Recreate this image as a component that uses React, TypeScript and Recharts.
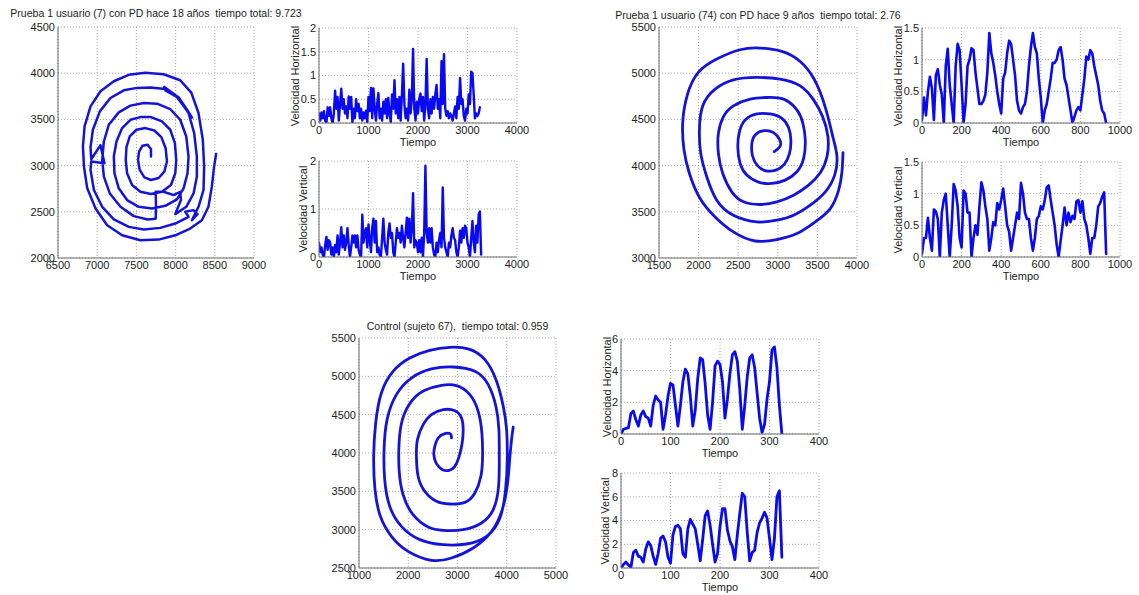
import React from 'react';
import { LineChart, Line, XAxis, YAxis, CartesianGrid } from 'recharts';

const FONT = '"Liberation Sans", Arial, Helvetica, sans-serif';
const SPIRAL_COLOR = '#1414d8';
const SPEED_COLOR = '#0a0af2';
const AXIS_COLOR = '#6e6e6e';
const GRID_COLOR = '#a4a4a4';
const TEXT_COLOR = '#1c1c1c';

// ---- titles ----
const titleUser7 = 'Prueba 1 usuario (7) con PD hace 18 años  tiempo total: 9.723';
const titleUser74 = 'Prueba 1 usuario (74) con PD hace 9 años  tiempo total: 2.76';
const titleControl = 'Control (sujeto 67),  tiempo total: 0.959';

const labelTime = 'Tiempo';
const labelHoriz = 'Velocidad Horizontal';
const labelVert = 'Velocidad Vertical';

// ---- tick values ----
const ticksX7 = [6500, 7000, 7500, 8000, 8500, 9000];
const ticksY7 = [2000, 2500, 3000, 3500, 4000, 4500];
const ticksX74 = [1500, 2000, 2500, 3000, 3500, 4000];
const ticksY74 = [3000, 3500, 4000, 4500, 5000, 5500];
const ticksX67 = [1000, 2000, 3000, 4000, 5000];
const ticksY67 = [2500, 3000, 3500, 4000, 4500, 5000, 5500];
const ticksT7 = [0, 1000, 2000, 3000, 4000];
const ticksT74 = [0, 200, 400, 600, 800, 1000];
const ticksT67 = [0, 100, 200, 300, 400];
const ticksH7 = [0, 0.5, 1, 1.5, 2];
const ticksV7 = [0, 1, 2];
const ticksHV74 = [0, 0.5, 1, 1.5];
const ticksH67 = [0, 2, 4, 6];
const ticksV67 = [0, 2, 4, 6, 8];

// ---- pen trace, user 7 (x, y) ----
const spiral7: [number, number][] = [
  [7686, 3098], [7686, 3178], [7644, 3225], [7576, 3214], [7534, 3152], [7521, 3062], [7542, 2953], [7602, 2873],
  [7686, 2844], [7784, 2866], [7856, 2935], [7890, 3044], [7873, 3188], [7818, 3308], [7729, 3380], [7614, 3406],
  [7500, 3388], [7415, 3315], [7373, 3199], [7364, 3062], [7381, 2917], [7445, 2790], [7551, 2717], [7686, 2692],
  [7826, 2717], [7941, 2790], [7996, 2917], [8008, 3062], [7991, 3243], [7932, 3388], [7826, 3478], [7686, 3525],
  [7551, 3525], [7424, 3496], [7318, 3406], [7246, 3261], [7212, 3098], [7220, 2917], [7275, 2754], [7381, 2627],
  [7530, 2554], [7699, 2536], [7869, 2565], [8017, 2634], [8102, 2754], [8152, 2917], [8165, 3098], [8136, 3315],
  [8059, 3496], [7932, 3612], [7763, 3670], [7593, 3678], [7424, 3649], [7275, 3576], [7148, 3442], [7085, 3261],
  [7064, 3062], [7085, 2880], [7161, 2699], [7297, 2554], [7466, 2453], [7644, 2417], [7746, 2424], [7750, 2554],
  [7746, 2717], [7847, 2717], [7975, 2681], [8059, 2717], [8068, 2627], [7996, 2475], [8136, 2554], [8229, 2699],
  [8271, 2880], [8271, 3098], [8237, 3351], [8165, 3569], [8038, 3732], [7869, 3815], [7856, 3851], [8000, 3760],
  [8210, 3520], [8150, 3600], [8038, 3740], [7870, 3830], [7678, 3844], [7508, 3841],
  [7339, 3815], [7169, 3732], [7034, 3587], [6945, 3388], [6915, 3199], [6924, 3069], [7042, 3221], [7093, 3025],
  [6924, 3044], [6915, 2953], [6958, 2736], [7064, 2554], [7212, 2417], [7403, 2337], [7593, 2308], [7805, 2326],
  [7996, 2373], [8165, 2446], [8123, 2500], [8229, 2518], [8280, 2475], [8208, 2409], [8292, 2554], [8356, 2736],
  [8364, 2989], [8347, 3279], [8292, 3569], [8200, 3790], [8059, 3924], [7847, 3989], [7614, 4004], [7403, 3982],
  [7212, 3913], [7042, 3804], [6915, 3641], [6839, 3424],
  [6818, 3207], [6831, 2989], [6873, 2754], [6979, 2536], [7127, 2355], [7318, 2246], [7551, 2192], [7784, 2199],
  [7996, 2246], [8186, 2319], [8335, 2409], [8419, 2554], [8462, 2772], [8491, 2989], [8517, 3127],
];

// ---- pen trace, user 74 (x, y) ----
const spiral74: [number, number][] = [
  [2955, 4150], [3030, 4212], [3022, 4284], [2946, 4357], [2828, 4378], [2714, 4331], [2672, 4234], [2680, 4107],
  [2744, 3999], [2849, 3944], [2976, 3951], [3081, 4013], [3148, 4132], [3165, 4277], [3136, 4411], [3051, 4512],
  [2904, 4559], [2735, 4559], [2588, 4494], [2516, 4368], [2495, 4205], [2524, 4024], [2609, 3897], [2756, 3821],
  [2925, 3807], [3094, 3843], [3241, 3933], [3326, 4078], [3347, 4277], [3317, 4458], [3241, 4603], [3073, 4719],
  [2862, 4737], [2651, 4719], [2440, 4646], [2314, 4530], [2250, 4349], [2250, 4132], [2305, 3915], [2419, 3716],
  [2567, 3608], [2777, 3579], [2988, 3608], [3199, 3680], [3389, 3789], [3536, 3923], [3621, 4096], [3633, 4313],
  [3566, 4530], [3452, 4711], [3283, 4863], [3030, 4936], [2735, 4954], [2440, 4928], [2208, 4827], [2052, 4646],
  [2010, 4386], [2027, 4132], [2103, 3879], [2229, 3626], [2440, 3463], [2735, 3391], [2988, 3409], [3199, 3463],
  [3410, 3572], [3600, 3716], [3718, 3897], [3747, 4096], [3705, 4277], [3654, 4458], [3570, 4711], [3452, 4946],
  [3283, 5127], [3051, 5236], [2777, 5272], [2524, 5254], [2229, 5153], [1997, 5008], [1858, 4766], [1799, 4458],
  [1816, 4169], [1884, 3915], [2019, 3644], [2208, 3445], [2440, 3282], [2714, 3184], [2988, 3199], [3241, 3264],
  [3473, 3391], [3663, 3535], [3768, 3734], [3810, 3933], [3823, 4140],
];

// ---- pen trace, control subject 67 (x, y) ----
const spiral67: [number, number][] = [
  [2878, 4196], [2858, 4248], [2742, 4252], [2607, 4196], [2539, 4087], [2519, 3978], [2573, 3861], [2695, 3783],
  [2831, 3774], [2946, 3826], [3034, 3956], [3095, 4130], [3115, 4304], [3081, 4457], [2946, 4552], [2709, 4565],
  [2471, 4500], [2302, 4370], [2187, 4174], [2166, 3956], [2200, 3696], [2336, 3500], [2573, 3370], [2844, 3335],
  [3149, 3356], [3353, 3478], [3475, 3696], [3509, 3956], [3495, 4261], [3420, 4543], [3251, 4761], [2980, 4878],
  [2675, 4883], [2336, 4817], [2064, 4674], [1881, 4435], [1814, 4130], [1814, 3783], [1895, 3456], [2098, 3196],
  [2403, 3035], [2709, 2991], [3115, 3000], [3488, 3087], [3726, 3261], [3834, 3565], [3848, 3956], [3841, 4304],
  [3780, 4609], [3624, 4891], [3353, 5065], [2912, 5122], [2471, 5096], [2064, 4978], [1759, 4761], [1570, 4435],
  [1509, 4043], [1522, 3652], [1624, 3304], [1861, 3043], [2234, 2870], [2709, 2804], [3183, 2813], [3590, 2913],
  [3861, 3152], [3976, 3522], [4010, 3913], [3997, 4304], [3929, 4609], [3793, 4935], [3556, 5217], [3217, 5357],
  [2844, 5378], [2437, 5339], [2031, 5239], [1692, 5065], [1454, 4783], [1339, 4391], [1298, 3956], [1325, 3522],
  [1434, 3174], [1658, 2913], [1997, 2717], [2471, 2600], [2878, 2630], [3319, 2761], [3692, 2978], [3909, 3261],
  [4017, 3609], [4065, 3956], [4105, 4217], [4132, 4339],
];

// ---- speed samples, user 7 (one value every 25 time units) ----
const step7 = 25;
const horiz7 = [
  0.2, 0.05, 0.22, 0.1, 0.25, 0.05, 0.0, 0.33, 0.15, 0.33, 0.1, 0.0, 0.2, 0.68, 0.3, 0.55,
  0.05, 0.4, 0.72, 0.3, 0.5, 0.2, 0.35, 0.1, 0.56, 0.3, 0.55, 0.0, 0.3, 0.1, 0.5, 0.25,
  0.4, 0.1, 0.3, 0.05, 0.22, 0.1, 0.26, 0.02, 0.55, 0.25, 0.74, 0.1, 0.73, 0.3, 0.05, 0.4,
  0.63, 0.1, 0.3, 0.05, 0.45, 0.2, 0.5, 0.1, 0.53, 0.2, 0.02, 0.6, 0.3, 0.9, 0.2, 0.5,
  0.1, 0.55, 0.05, 0.6, 1.25, 0.4, 0.1, 0.3, 0.05, 0.7, 0.2, 0.5, 1.56, 0.3, 0.05, 0.45,
  0.2, 0.5, 0.62, 0.25, 0.55, 0.05, 0.4, 1.35, 0.3, 0.1, 0.5, 0.2, 0.55, 0.3, 0.6, 0.8,
  0.3, 0.5, 0.1, 1.3, 0.4, 1.45, 0.3, 0.15, 0.25, 0.1, 0.2, 0.15, 0.05, 0.2, 0.35, 0.1,
  0.55, 0.3, 0.95, 0.4, 0.5, 0.15, 0.05, 0.3, 0.2, 0.6, 0.4, 1.08, 1.05, 0.6, 0.1, 0.2,
  0.15, 0.2, 0.33,
];
const vert7 = [
  0.3, 0.1, 0.2, 0.05, 0.0, 0.25, 0.42, 0.15, 0.35, 0.3, 0.05, 0.2, 0.0, 0.25, 0.1, 0.45,
  0.05, 0.3, 0.62, 0.2, 0.45, 0.15, 0.3, 0.6, 0.25, 0.0, 0.2, 0.45, 0.3, 0.45, 0.2, 0.45,
  0.15, 0.05, 0.0, 0.88, 0.3, 0.5, 0.6, 0.2, 0.68, 0.35, 0.1, 0.6, 0.8, 0.3, 0.75, 0.1,
  0.2, 0.05, 0.0, 0.4, 0.8, 0.3, 0.15, 0.05, 0.5, 0.7, 0.4, 0.5, 0.1, 0.0, 0.3, 0.6,
  0.4, 0.5, 0.3, 0.65, 0.4, 0.2, 0.5, 0.82, 0.4, 0.8, 0.3, 0.6, 1.33, 0.2, 0.35, 0.3,
  0.1, 0.35, 0.1, 0.4, 0.0, 0.5, 1.9, 0.5, 0.3, 0.6, 0.3, 0.6, 0.2, 0.05, 0.0, 0.3,
  0.1, 0.35, 0.5, 0.2, 1.45, 0.4, 0.2, 0.1, 0.0, 0.3, 0.2, 0.45, 0.6, 0.4, 0.35, 0.1,
  0.0, 0.2, 0.55, 0.3, 0.6, 0.4, 0.65, 0.6, 0.3, 0.2, 0.0, 0.4, 0.75, 0.3, 0.1, 0.65,
  0.3, 0.88, 0.95, 0.05,
];

// ---- speed samples, user 74 (one value every 10 time units) ----
const step74 = 10;
const horiz74 = [
  0.05, 0.4, 0.12, 0.5, 0.73, 0.55, 0.05, 0.75, 0.85, 0.6, 0.45, 0.0, 0.9, 1.17, 0.6, 0.3,
  0.0, 0.9, 1.25, 1.15, 0.6, 0.0, 0.3, 0.9, 1.0, 1.18, 1.15, 0.8, 0.55, 0.3, 0.3, 0.35,
  0.45, 0.8, 1.42, 1.1, 0.95, 0.75, 0.5, 0.3, 0.15, 0.7, 0.8, 1.1, 1.3, 1.25, 1.0, 0.75,
  0.35, 0.2, 0.15, 0.25, 0.3, 0.5, 0.9, 1.2, 1.42, 1.2, 1.1, 0.7, 0.4, 0.0, 0.2, 0.3,
  0.5, 0.7, 0.95, 0.95, 1.0, 1.15, 1.2, 1.0, 0.7, 0.6, 0.4, 0.2, 0.0, 0.1, 0.2, 0.25,
  0.2, 0.45, 0.7, 1.05, 1.0, 1.15, 1.1, 0.9, 0.75, 0.6, 0.35, 0.2, 0.15, 0.0,
];
const vert74 = [
  0.05, 0.3, 0.3, 0.62, 0.3, 0.1, 0.75, 0.72, 0.6, 0.0, 0.7, 0.9, 1.0, 0.5, 0.0, 0.5,
  1.15, 1.05, 0.8, 0.3, 0.15, 1.05, 1.0, 0.7, 0.7, 0.0, 0.3, 0.5, 0.35, 0.8, 1.18, 1.05,
  0.8, 0.6, 0.1, 0.3, 0.55, 0.5, 0.85, 0.75, 0.9, 1.08, 0.8, 0.5, 0.4, 0.1, 0.3, 0.5,
  0.7, 0.6, 1.17, 1.0, 0.7, 0.6, 0.6, 0.3, 0.1, 0.3, 0.6, 0.65, 0.8, 0.75, 0.9, 1.1,
  1.13, 0.9, 0.7, 0.5, 0.2, 0.0, 0.25, 0.5, 0.78, 0.5, 0.7, 0.55, 0.65, 0.6, 0.88, 0.9,
  0.7, 0.88, 0.6, 0.5, 0.3, 0.05, 0.3, 0.3, 0.5, 0.8, 0.85, 0.95, 1.02, 0.05,
];

// ---- speed samples, control 67 (one value every 5 time units) ----
const step67 = 5;
const horiz67 = [
  0.0, 0.3, 0.35, 0.4, 1.3, 1.45, 0.9, 0.5, 1.2, 1.45, 1.1, 1.0, 0.5, 1.8, 2.4, 2.15,
  2.0, 0.3, 1.2, 2.4, 3.2, 3.1, 1.8, 0.5, 1.8, 3.3, 4.1, 3.8, 2.4, 0.5, 1.5, 3.5,
  4.8, 4.7, 3.2, 1.2, 0.3, 2.0, 4.3, 4.6, 4.4, 3.3, 1.0, 2.2, 3.8, 5.0, 5.2, 4.6,
  2.8, 0.3, 1.8, 3.6, 4.8, 5.0, 4.2, 2.6, 1.0, 0.1, 0.6, 2.2, 3.3, 5.3, 5.5, 4.2,
  1.8, 0.0,
];
const vert67 = [
  0.0, 0.3, 0.5, 0.25, 0.05, 1.3, 1.5, 1.0, 0.9, 0.5, 1.6, 2.2, 1.9, 1.0, 0.3, 1.2,
  2.5, 2.7, 2.2, 0.9, 0.4, 2.8, 3.5, 3.6, 3.3, 1.2, 0.9, 3.3, 4.1, 3.7, 3.3, 2.0,
  0.6, 2.4, 4.4, 4.8, 3.6, 2.0, 0.5, 1.2, 3.5, 5.0, 5.0, 3.2, 2.3, 1.8, 0.7, 2.8,
  4.6, 6.3, 6.0, 3.0, 0.6, 1.3, 1.5, 3.0, 3.8, 4.2, 4.7, 4.2, 2.5, 0.7, 2.5, 6.0,
  6.5, 0.9,
];

type Pt = { x: number; y: number };
const toPath = (pts: [number, number][]): Pt[] => pts.map(([x, y]) => ({ x, y }));
const toSeries = (vals: number[], step: number): Pt[] => vals.map((v, i) => ({ x: i * step, y: v }));

type PanelProps = {
  box: [number, number, number, number]; // left, top, right, bottom of the plot frame
  data: Pt[];
  xDomain: [number, number];
  xTicks: number[];
  yDomain: [number, number];
  yTicks: number[];
  curve: 'linear' | 'natural';
  color: string;
  lineWidth: number;
  title?: string;
  titleGap?: number;
  xLabel?: string;
  yLabel?: string;
  yLabelGap?: number;
};

const YW = 44;
const MT = 6;
const MR = 18;
const XH = 30;
const tickStyle = { fontSize: 11, fill: TEXT_COLOR, fontFamily: FONT };

function Panel(p: PanelProps) {
  const [l, t, r, b] = p.box;
  const w = r - l;
  const h = b - t;
  return (
    <>
      <div style={{ position: 'absolute', left: l - YW, top: t - MT }}>
        <LineChart
          width={YW + w + MR}
          height={MT + h + XH}
          data={p.data}
          margin={{ top: MT, right: MR, left: 0, bottom: 0 }}
        >
          <CartesianGrid stroke={GRID_COLOR} strokeDasharray="1 2" strokeWidth={1} />
          <XAxis
            type="number"
            dataKey="x"
            domain={p.xDomain}
            ticks={p.xTicks}
            interval={0}
            allowDataOverflow
            height={XH}
            tickLine={false}
            tickSize={3}
            tickMargin={0}
            axisLine={{ stroke: AXIS_COLOR }}
            tick={tickStyle}
          />
          <YAxis
            type="number"
            domain={p.yDomain}
            ticks={p.yTicks}
            interval={0}
            allowDataOverflow
            width={YW}
            tickLine={false}
            tickSize={3}
            tickMargin={0}
            axisLine={{ stroke: AXIS_COLOR }}
            tick={tickStyle}
          />
          <XAxis
            xAxisId="frameTop"
            orientation="top"
            type="number"
            domain={p.xDomain}
            allowDataOverflow
            height={0}
            tick={false}
            tickLine={false}
            axisLine={{ stroke: AXIS_COLOR }}
          />
          <YAxis
            yAxisId="frameRight"
            orientation="right"
            type="number"
            domain={p.yDomain}
            allowDataOverflow
            width={0}
            tick={false}
            tickLine={false}
            axisLine={{ stroke: AXIS_COLOR }}
          />
          <Line
            type={p.curve}
            dataKey="y"
            stroke={p.color}
            strokeWidth={p.lineWidth}
            strokeLinejoin="round"
            strokeLinecap="round"
            dot={false}
            activeDot={false}
            isAnimationActive={false}
          />
        </LineChart>
      </div>
      {p.title && (
        <div
          style={{
            position: 'absolute',
            left: (l + r) / 2,
            top: t - (p.titleGap ?? 13),
            transform: 'translate(-50%, -50%)',
            whiteSpace: 'pre',
            fontFamily: FONT,
            fontSize: 10.5,
            lineHeight: '12px',
            color: TEXT_COLOR,
          }}
        >
          {p.title}
        </div>
      )}
      {p.xLabel && (
        <div
          style={{
            position: 'absolute',
            left: (l + r) / 2,
            top: b + 18.5,
            transform: 'translate(-50%, -50%)',
            whiteSpace: 'pre',
            fontFamily: FONT,
            fontSize: 11,
            lineHeight: '13px',
            color: TEXT_COLOR,
          }}
        >
          {p.xLabel}
        </div>
      )}
      {p.yLabel && (
        <div
          style={{
            position: 'absolute',
            left: l - (p.yLabelGap ?? 20),
            top: (t + b) / 2,
            transform: 'translate(-50%, -50%) rotate(-90deg)',
            whiteSpace: 'pre',
            fontFamily: FONT,
            fontSize: 11,
            lineHeight: '13px',
            color: TEXT_COLOR,
          }}
        >
          {p.yLabel}
        </div>
      )}
    </>
  );
}

export default function App() {
  return (
    <div
      style={{
        position: 'absolute',
        left: 0,
        top: 0,
        width: 1139,
        height: 595,
        background: '#ffffff',
        overflow: 'hidden',
      }}
    >
      {/* user 7 */}
      <Panel box={[58, 27, 254, 258]} data={toPath(spiral7)} xDomain={[6500, 9000]} xTicks={ticksX7}
        yDomain={[2000, 4500]} yTicks={ticksY7} curve="linear" color={SPIRAL_COLOR} lineWidth={2.5}
        title={titleUser7} titleGap={14} />
      <Panel box={[319, 28, 517, 123]} data={toSeries(horiz7, step7)} xDomain={[0, 4000]} xTicks={ticksT7}
        yDomain={[0, 2]} yTicks={ticksH7} curve="linear" color={SPEED_COLOR} lineWidth={2.4}
        xLabel={labelTime} yLabel={labelHoriz} yLabelGap={24} />
      <Panel box={[319, 161, 517, 257]} data={toSeries(vert7, step7)} xDomain={[0, 4000]} xTicks={ticksT7}
        yDomain={[0, 2]} yTicks={ticksV7} curve="linear" color={SPEED_COLOR} lineWidth={2.4}
        xLabel={labelTime} yLabel={labelVert} yLabelGap={16} />

      {/* user 74 */}
      <Panel box={[659, 27, 857, 258]} data={toPath(spiral74)} xDomain={[1500, 4000]} xTicks={ticksX74}
        yDomain={[3000, 5500]} yTicks={ticksY74} curve="natural" color={SPIRAL_COLOR} lineWidth={2.8}
        title={titleUser74} titleGap={12} />
      <Panel box={[922, 28, 1120, 123]} data={toSeries(horiz74, step74)} xDomain={[0, 1000]} xTicks={ticksT74}
        yDomain={[0, 1.5]} yTicks={ticksHV74} curve="linear" color={SPEED_COLOR} lineWidth={2.6}
        xLabel={labelTime} yLabel={labelHoriz} yLabelGap={24} />
      <Panel box={[922, 162, 1120, 257]} data={toSeries(vert74, step74)} xDomain={[0, 1000]} xTicks={ticksT74}
        yDomain={[0, 1.5]} yTicks={ticksHV74} curve="linear" color={SPEED_COLOR} lineWidth={2.6}
        xLabel={labelTime} yLabel={labelVert} yLabelGap={24} />

      {/* control 67 */}
      <Panel box={[359, 338, 556, 568]} data={toPath(spiral67)} xDomain={[1000, 5000]} xTicks={ticksX67}
        yDomain={[2500, 5500]} yTicks={ticksY67} curve="natural" color={SPIRAL_COLOR} lineWidth={2.8}
        title={titleControl} titleGap={12} />
      <Panel box={[621, 339, 819, 434]} data={toSeries(horiz67, step67)} xDomain={[0, 400]} xTicks={ticksT67}
        yDomain={[0, 6]} yTicks={ticksH67} curve="linear" color={SPEED_COLOR} lineWidth={2.8}
        xLabel={labelTime} yLabel={labelHoriz} yLabelGap={14} />
      <Panel box={[621, 473, 819, 568]} data={toSeries(vert67, step67)} xDomain={[0, 400]} xTicks={ticksT67}
        yDomain={[0, 8]} yTicks={ticksV67} curve="linear" color={SPEED_COLOR} lineWidth={2.8}
        xLabel={labelTime} yLabel={labelVert} yLabelGap={16} />
    </div>
  );
}
